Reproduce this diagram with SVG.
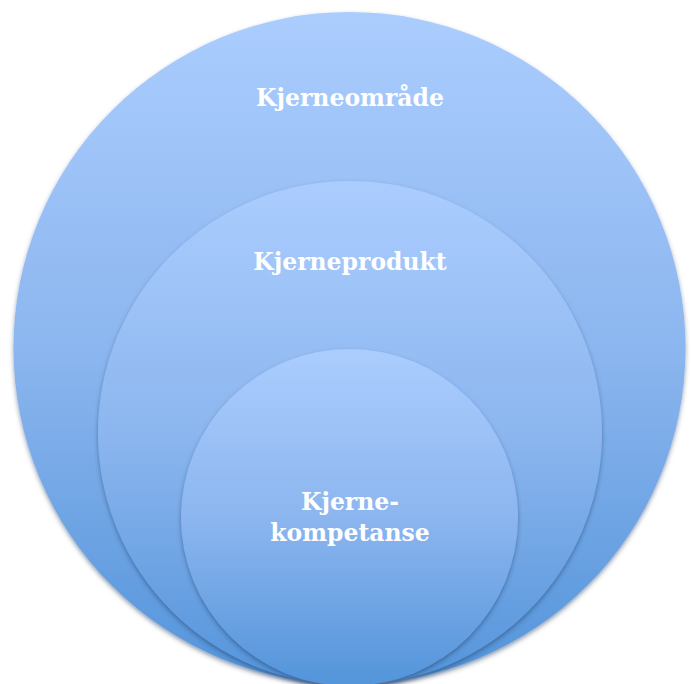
<svg xmlns="http://www.w3.org/2000/svg" width="691" height="684" viewBox="0 0 691 684">
<defs>
<linearGradient id="g" x1="0" y1="0" x2="0" y2="1">
<stop offset="0" stop-color="#abcdfe"/>
<stop offset="0.5" stop-color="#8cb6ef"/>
<stop offset="1" stop-color="#5394da"/>
</linearGradient>
<filter id="sh" x="-10%" y="-10%" width="120%" height="120%">
<feDropShadow dx="0" dy="2.5" stdDeviation="2" flood-color="#1d3a66" flood-opacity="0.5"/>
</filter>
</defs>
<style>
.c{fill:url(#g);filter:url(#sh)}
.t{font-family:"DejaVu Serif","Liberation Serif",serif;font-weight:bold;font-size:23.5px;fill:#ffffff;text-anchor:middle}
</style>
<g id="outer">
<circle class="c" cx="349.5" cy="348" r="336"/>
<text class="t" x="350" y="106">Kjerneområde</text>
</g>
<g id="middle">
<circle class="c" cx="350" cy="433" r="252"/>
<text class="t" x="350" y="270">Kjerneprodukt</text>
</g>
<g id="inner">
<circle class="c" cx="349.5" cy="517.5" r="168.5"/>
<text class="t" x="350" y="510">Kjerne-</text>
<text class="t" x="350" y="541">kompetanse</text>
</g>
<g id="connectors"/>
</svg>
